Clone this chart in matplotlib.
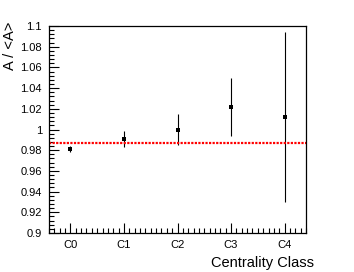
import numpy as np
import matplotlib.pyplot as plt
from matplotlib.ticker import MultipleLocator

# centrality classes and A/<A> values
classes = ["C0", "C1", "C2", "C3", "C4"]
ratio = [0.981, 0.991, 1.000, 1.022, 1.012]
ratio_err = [0.003, 0.008, 0.0145, 0.028, 0.082]
mean_ratio = 0.9865

plt.rcParams["font.family"] = ["Liberation Sans", "DejaVu Sans"]

W, H = 354, 272
fig = plt.figure(figsize=(W / 100, H / 100), dpi=100)
ax = fig.add_axes([49 / W, 1 - 233 / H, 257 / W, 207 / H])

x = np.arange(len(classes))
ax.errorbar(x, ratio, yerr=ratio_err, fmt="s", color="black", ms=2.2,
            mew=0, elinewidth=0.8, capsize=0)
ax.axhline(mean_ratio, color="red", ls=(0, (1, 0.6)), lw=1.6)

ax.set_xlim(-0.4, 4.4)
ax.set_ylim(0.9, 1.1)
ax.set_xticks(x)
ax.set_xticklabels(classes)
ax.xaxis.set_minor_locator(MultipleLocator(0.1))
ax.yaxis.set_major_locator(MultipleLocator(0.02))
ax.yaxis.set_minor_locator(MultipleLocator(0.004))
ax.set_yticklabels([f"{v:g}" for v in ax.get_yticks()])

ax.tick_params(which="both", direction="in", top=False, right=False,
               labelsize=8, width=0.8)
ax.tick_params(which="major", length=7, pad=5)
ax.tick_params(which="minor", length=3.5)
for s in ax.spines.values():
    s.set_linewidth(0.9)

# axis titles placed like ROOT does (right / top aligned)
fig.text(314 / W, 1 - 256 / H, "Centrality Class", fontsize=10.5,
         ha="right", va="top")
fig.text(17 / W, 1 - 22 / H, "A / <A>", fontsize=10.5, rotation=90,
         ha="right", va="top")

fig.savefig("out.png", dpi=100)
